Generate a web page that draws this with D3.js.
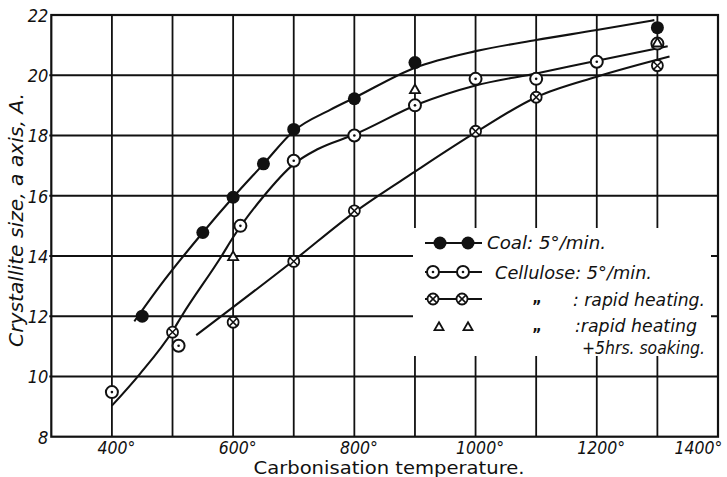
<!DOCTYPE html>
<html><head><meta charset="utf-8">
<script src="https://cdn.jsdelivr.net/npm/d3@7"></script>
<style>
html,body{margin:0;padding:0;background:#fff;}
svg{display:block;}
text{font-family:"DejaVu Sans Condensed","DejaVu Sans",sans-serif;font-style:oblique;fill:#111;}
</style></head><body>
<svg id="c" width="727" height="477"></svg>
<script>
// ---- data ----
const xTickValues = [400, 600, 800, 1000, 1200, 1400];
const xTickLabels = ["400°", "600°", "800°", "1000°", "1200°", "1400°"];
const xGridValues = [400, 500, 600, 700, 800, 900, 1000, 1100, 1200, 1300];
const yTickValues = [8, 10, 12, 14, 16, 18, 20, 22];
const yGridValues = [10, 12, 14, 16, 18, 20];

// measured points
const coalT = [450, 550, 600, 650, 700, 800, 900, 1300];
const coalV = [12.0, 14.78, 15.95, 17.06, 18.2, 19.22, 20.42, 21.58];
const celT = [400, 510, 612, 700, 800, 900, 1000, 1100, 1200, 1300];
const celV = [9.48, 11.02, 15.0, 17.16, 18.0, 19.0, 19.88, 19.88, 20.45, 21.05];
const rapT = [500, 600, 700, 800, 1000, 1100, 1300];
const rapV = [11.47, 11.8, 13.82, 15.5, 18.14, 19.27, 20.32];
const soakT = [600, 900, 1300];
const soakV = [13.98, 19.52, 21.07];

// fitted curves
const coalCurveT = [437, 479, 550, 600, 650, 700, 760, 800, 900, 1000, 1100, 1200, 1295];
const coalCurveV = [11.83, 13.0, 14.78, 15.95, 17.05, 18.15, 18.85, 19.25, 20.25, 20.8, 21.17, 21.5, 21.83];
const celCurveT = [400, 446, 500, 515, 581, 600, 649, 700, 740, 800, 908, 1000, 1100, 1200, 1317];
const celCurveV = [9.03, 10.08, 11.5, 12.0, 14.0, 14.62, 15.95, 17.05, 17.55, 18.03, 19.06, 19.66, 20.06, 20.48, 20.96];
const rapCurveT = [539, 600, 700, 800, 900, 1000, 1100, 1200, 1320];
const rapCurveV = [11.37, 12.3, 13.85, 15.45, 16.8, 18.1, 19.27, 19.95, 20.62];

const legendLabels = ["Coal: 5°/min.", "Cellulose: 5°/min.", ": rapid heating.", ":rapid heating", "+5hrs. soaking."];
const dittoMark = "„";
const xTitle = "Carbonisation temperature.";
const yTitle = "Crystallite size, a axis, A.";

// ---- drawing ----
const svg = d3.select("#c");
const W = 727, H = 477;
const x = d3.scaleLinear().domain([300, 1400]).range([51.3, 718]);
const y = d3.scaleLinear().domain([8, 22]).range([436.7, 15]);
const ink = "#111";

// grid
svg.append("g").selectAll("line").data(xGridValues).join("line")
  .attr("x1", d => x(d)).attr("x2", d => x(d))
  .attr("y1", y(22)).attr("y2", y(8))
  .attr("stroke", ink).attr("stroke-width", 1.8);
svg.append("g").selectAll("line").data(yGridValues).join("line")
  .attr("x1", x(300) - 2).attr("x2", x(1400))
  .attr("y1", d => y(d)).attr("y2", d => y(d))
  .attr("stroke", ink).attr("stroke-width", 1.9);
svg.append("rect").attr("x", x(300)).attr("y", y(22))
  .attr("width", x(1400) - x(300)).attr("height", y(8) - y(22))
  .attr("fill", "none").attr("stroke", ink).attr("stroke-width", 2.2);

// axes tick labels
const xAxis = d3.axisBottom(x).tickValues(xTickValues).tickSize(0).tickPadding(0)
  .tickFormat((d, i) => xTickLabels[i]);
const gx = svg.append("g").attr("transform", `translate(0,${y(8)})`).call(xAxis);
gx.select(".domain").remove();
gx.selectAll("text").attr("font-family", null).attr("fill", null)
  .style("font-size", "17.5px").attr("y", 17).attr("dy", 0)
  .attr("dx", (d, i) => i === xTickValues.length - 1 ? -20 : 4);

const yAxis = d3.axisLeft(y).tickValues(yTickValues).tickSize(0).tickPadding(3).tickFormat(d3.format("d"));
const gy = svg.append("g").attr("transform", `translate(${x(300)},0)`).call(yAxis);
gy.select(".domain").remove();
gy.selectAll("text").attr("font-family", null).attr("fill", null)
  .style("font-size", "18px").attr("dy", "0.36em");

// axis titles
svg.append("text").attr("x", 389).attr("y", 474).attr("text-anchor", "middle")
  .style("font-size", "17px").style("font-style", "normal")
  .attr("textLength", 271).attr("lengthAdjust", "spacingAndGlyphs").text(xTitle);
svg.append("text").attr("transform", "translate(23,220) rotate(-90)")
  .attr("text-anchor", "middle").style("font-size", "19px")
  .attr("textLength", 254).attr("lengthAdjust", "spacingAndGlyphs").text(yTitle);

// curves
const line = d3.line().x(d => x(d[0])).y(d => y(d[1])).curve(d3.curveMonotoneX);
const curves = [[coalCurveT, coalCurveV], [celCurveT, celCurveV], [rapCurveT, rapCurveV]];
curves.forEach(([t, v]) => {
  svg.append("path").attr("d", line(t.map((d, i) => [d, v[i]])))
    .attr("fill", "none").attr("stroke", ink).attr("stroke-width", 2.1);
});

// markers
function filledCircle(g, cx, cy) {
  g.append("circle").attr("cx", cx).attr("cy", cy).attr("r", 6.5).attr("fill", ink);
}
function dotCircle(g, cx, cy) {
  g.append("circle").attr("cx", cx).attr("cy", cy).attr("r", 6).attr("fill", "#fff")
    .attr("stroke", ink).attr("stroke-width", 2);
  g.append("circle").attr("cx", cx).attr("cy", cy).attr("r", 1.3).attr("fill", ink);
}
function crossCircle(g, cx, cy) {
  g.append("circle").attr("cx", cx).attr("cy", cy).attr("r", 5.5).attr("fill", "#fff")
    .attr("stroke", ink).attr("stroke-width", 1.8);
  const k = 3.9;
  g.append("path").attr("d", `M${cx - k},${cy - k}L${cx + k},${cy + k}M${cx - k},${cy + k}L${cx + k},${cy - k}`)
    .attr("stroke", ink).attr("stroke-width", 1.5);
}
function triangle(g, cx, cy, s) {
  const h = s * 0.87;
  g.append("path").attr("d", `M${cx},${cy - h * 0.6}L${cx + s / 2},${cy + h * 0.4}L${cx - s / 2},${cy + h * 0.4}Z`)
    .attr("fill", "#fff").attr("stroke", ink).attr("stroke-width", 1.8).attr("stroke-linejoin", "miter");
}

const mk = svg.append("g");
coalT.forEach((t, i) => filledCircle(mk, x(t), y(coalV[i])));
celT.forEach((t, i) => dotCircle(mk, x(t), y(celV[i])));
rapT.forEach((t, i) => crossCircle(mk, x(t), y(rapV[i])));
soakT.forEach((t, i) => triangle(mk, x(t), y(soakV[i]), 10));

// legend
const lg = svg.append("g");
lg.append("rect").attr("x", 413).attr("y", 228).attr("width", 298).attr("height", 128).attr("fill", "#fff");
const rowsY = [243, 272, 299, 327];
[0, 1, 2].forEach(r => {
  lg.append("line").attr("x1", 425).attr("x2", 482).attr("y1", rowsY[r]).attr("y2", rowsY[r])
    .attr("stroke", ink).attr("stroke-width", 2);
});
filledCircle(lg, 440, rowsY[0]); filledCircle(lg, 468, rowsY[0]);
dotCircle(lg, 433, rowsY[1]); dotCircle(lg, 463, rowsY[1]);
crossCircle(lg, 433, rowsY[2]); crossCircle(lg, 462, rowsY[2]);
triangle(lg, 439, rowsY[3], 9); triangle(lg, 468, rowsY[3], 9);

const lt = [
  {x: 487, y: 249, len: 119, t: legendLabels[0]},
  {x: 495, y: 279, len: 157, t: legendLabels[1]},
  {x: 573, y: 306, len: 132, t: legendLabels[2]},
  {x: 575, y: 332, len: 122, t: legendLabels[3]},
  {x: 582, y: 354, len: 123, t: legendLabels[4]}
];
lt.forEach(d => {
  lg.append("text").attr("x", d.x).attr("y", d.y).style("font-size", "18px")
    .attr("textLength", d.len).attr("lengthAdjust", "spacingAndGlyphs").text(d.t);
});
[rowsY[2], rowsY[3]].forEach(ry => {
  lg.append("text").attr("x", 537).attr("y", ry + 4).attr("text-anchor", "middle")
    .style("font-size", "16px").style("font-weight", "bold").style("font-style", "normal").text(dittoMark);
});
</script>
</body></html>
